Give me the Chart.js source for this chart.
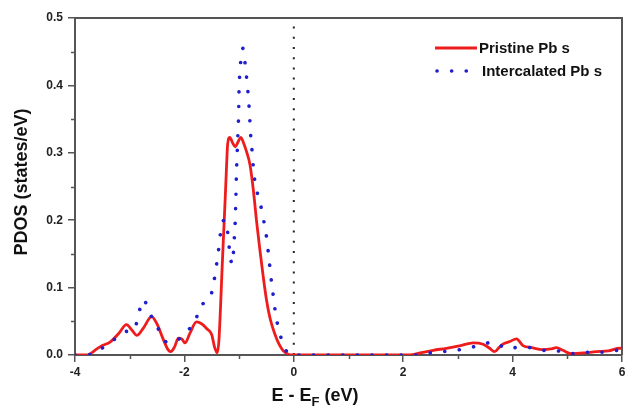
<!DOCTYPE html>
<html>
<head>
<meta charset="utf-8">
<script src="https://cdn.jsdelivr.net/npm/chart.js@4/dist/chart.umd.min.js"></script>
<style>
html,body{margin:0;padding:0;background:#fff;}
#wrap{width:625px;height:409px;position:relative;}
</style>
</head>
<body>
<div id="wrap"><canvas id="c" width="625" height="409"></canvas></div>
<script>
// ---- Data ----
const pristineE = [-4.0,-3.8,-3.72,-3.6,-3.5,-3.36,-3.2,-3.06,-2.95,-2.87,-2.75,-2.6,-2.5,-2.39,-2.3,-2.25,-2.18,-2.11,-2.05,-1.99,-1.9,-1.78,-1.68,-1.59,-1.5,-1.45,-1.4,-1.37,-1.34,-1.31,-1.28,-1.25,-1.23,-1.21,-1.17,-1.12,-1.07,-1.02,-0.97,-0.92,-0.865,-0.8,-0.74,-0.68,-0.62,-0.56,-0.5,-0.43,-0.35,-0.27,-0.2,-0.12,-0.05,0.5,1.0,1.5,2.1,2.2,2.36,2.55,2.79,3.05,3.28,3.46,3.58,3.67,3.75,3.82,3.95,4.07,4.19,4.35,4.55,4.7,4.8,4.92,5.07,5.3,5.53,5.75,5.96,6.0];
const pristineDOS = [0,0,0.002,0.009,0.014,0.019,0.032,0.045,0.036,0.029,0.04,0.057,0.046,0.024,0.008,0.005,0.012,0.025,0.024,0.018,0.032,0.049,0.046,0.039,0.03,0.012,0.003,0.02,0.07,0.13,0.185,0.24,0.279,0.312,0.323,0.315,0.309,0.316,0.323,0.315,0.302,0.282,0.245,0.198,0.156,0.117,0.082,0.053,0.032,0.016,0.007,0.002,0,0,0,0,0,0.001,0.004,0.007,0.01,0.014,0.018,0.016,0.01,0.005,0.011,0.016,0.02,0.024,0.014,0.011,0.008,0.009,0.011,0.007,0.002,0.003,0.005,0.006,0.01,0.01];

const intercalatedE = [-4.0,-3.78,-3.57,-3.3,-3.06,-2.92,-2.84,-2.76,-2.69,-2.63,-2.48,-2.3,-2.18,-2.05,-1.95,-1.81,-1.72,-1.6,-1.52,-1.46,-1.42,-1.38,-1.35,-1.3,-1.26,-1.23,-1.2,-1.17,-1.13,-1.1,-1.085,-1.07,-1.06,-1.05,-1.04,-1.03,-1.02,-1.01,-1.005,-1.0,-0.985,-0.965,-0.93,-0.89,-0.86,-0.835,-0.816,-0.8,-0.785,-0.76,-0.74,-0.71,-0.65,-0.58,-0.53,-0.49,-0.46,-0.43,-0.4,-0.365,-0.33,-0.28,-0.2,-0.12,-0.05,0.5,1.0,1.5,2.2,2.4,2.58,2.85,3.12,3.38,3.64,3.78,3.9,4.05,4.16,4.31,4.55,4.83,5.1,5.38,5.65,5.93,6.0];
const intercalatedDOS = [0,0,0.007,0.022,0.035,0.037,0.059,0.082,0.075,0.062,0.039,0.018,0.02,0.027,0.036,0.048,0.07,0.08,0.087,0.109,0.13,0.153,0.175,0.198,0.2,0.196,0.175,0.152,0.135,0.156,0.178,0.2,0.23,0.265,0.29,0.31,0.331,0.353,0.374,0.397,0.419,0.44,0.455,0.432,0.409,0.387,0.366,0.344,0.322,0.3,0.278,0.257,0.235,0.213,0.19,0.17,0.147,0.125,0.103,0.082,0.059,0.04,0.017,0.004,0,0,0,0,0,0.002,0.004,0.006,0.009,0.014,0.019,0.014,0.009,0.011,0.012,0.011,0.007,0.006,0.002,0.004,0.004,0.007,0.007];

const fermiE = [0, 0];
const fermiDOS = [0, 0.49];

const seriesLabels = ['Pristine Pb s', 'Intercalated Pb s'];
const xTicks = [-4, -2, 0, 2, 4, 6];
const yTicks = [0.0, 0.1, 0.2, 0.3, 0.4, 0.5];
const xMinorTicks = [-3, -1, 1, 3, 5];
const yMinorTicks = [0.05, 0.15, 0.25, 0.35, 0.45];

const toPts = (xs, ys) => xs.map((x, i) => ({x: x, y: ys[i]}));

const FONT = "'Liberation Sans', Arial, Helvetica, sans-serif";
const AXIS = '#555555';
const RED = '#ee1c1c';
const BLUE = '#1f1fcc';

Chart.defaults.font.family = FONT;

const framePlugin = {
  id: 'frameAndExtras',
  afterDraw(chart) {
    const ctx = chart.ctx;
    const a = chart.chartArea;
    const xs = chart.scales.x, ys = chart.scales.y;
    ctx.save();
    // top and right frame
    ctx.strokeStyle = AXIS;
    ctx.lineWidth = 2;
    ctx.beginPath();
    ctx.moveTo(a.left - 1, a.top);
    ctx.lineTo(a.right, a.top);
    ctx.lineTo(a.right, a.bottom);
    ctx.stroke();
    // minor ticks
    ctx.lineWidth = 1.5;
    ctx.beginPath();
    yMinorTicks.forEach(v => {
      const py = Math.round(ys.getPixelForValue(v)) + 0.5;
      ctx.moveTo(a.left - 4, py); ctx.lineTo(a.left, py);
    });
    xMinorTicks.forEach(v => {
      const px = Math.round(xs.getPixelForValue(v)) + 0.5;
      ctx.moveTo(px, a.bottom); ctx.lineTo(px, a.bottom + 4);
    });
    ctx.stroke();

    // axis titles
    ctx.fillStyle = '#111';
    ctx.textBaseline = 'alphabetic';
    ctx.font = 'bold 18px ' + FONT;
    const t1 = 'E - E', t3 = ' (eV)';
    const subFont = 'bold 13px ' + FONT;
    const w1 = ctx.measureText(t1).width;
    const w3 = ctx.measureText(t3).width;
    ctx.font = subFont;
    const w2 = ctx.measureText('F').width;
    const total = w1 + w2 + w3;
    let x0 = 315 - total / 2;
    const base = 401;
    ctx.font = 'bold 18px ' + FONT;
    ctx.textAlign = 'left';
    ctx.fillText(t1, x0, base);
    ctx.font = subFont;
    ctx.fillText('F', x0 + w1, base + 5);
    ctx.font = 'bold 18px ' + FONT;
    ctx.fillText(t3, x0 + w1 + w2, base);

    ctx.save();
    ctx.translate(22, 182);
    ctx.rotate(-Math.PI / 2);
    ctx.textAlign = 'center';
    ctx.textBaseline = 'middle';
    ctx.font = 'bold 18px ' + FONT;
    ctx.fillText('PDOS (states/eV)', 0, 0);
    ctx.restore();

    // legend
    const lx = a.right - 187;
    const ly1 = a.top + 30, ly2 = a.top + 53;
    const ds = chart.data.datasets;
    ctx.lineCap = 'butt';
    ctx.strokeStyle = ds[0].borderColor;
    ctx.lineWidth = ds[0].borderWidth;
    ctx.setLineDash([]);
    ctx.beginPath();
    ctx.moveTo(lx, ly1); ctx.lineTo(lx + 42, ly1);
    ctx.stroke();
    ctx.strokeStyle = ds[1].borderColor;
    ctx.lineWidth = ds[1].borderWidth;
    ctx.lineCap = 'round';
    ctx.setLineDash(ds[1].borderDash);
    ctx.beginPath();
    ctx.moveTo(lx + 2, ly2); ctx.lineTo(lx + 40, ly2);
    ctx.stroke();
    ctx.setLineDash([]);
    ctx.fillStyle = '#111';
    ctx.font = 'bold 15px ' + FONT;
    ctx.textAlign = 'left';
    ctx.textBaseline = 'middle';
    ctx.fillText(ds[0].label, lx + 44, ly1 + 1);
    ctx.fillText(ds[1].label, lx + 47, ly2 + 1);
    ctx.restore();
  }
};

new Chart(document.getElementById('c'), {
  type: 'scatter',
  data: {
    datasets: [
      {
        label: seriesLabels[0],
        data: toPts(pristineE, pristineDOS),
        showLine: true,
        borderColor: RED,
        backgroundColor: RED,
        borderWidth: 2.8,
        pointRadius: 0,
        cubicInterpolationMode: 'monotone',
        order: 2
      },
      {
        label: seriesLabels[1],
        data: toPts(intercalatedE, intercalatedDOS),
        showLine: true,
        borderColor: BLUE,
        backgroundColor: BLUE,
        borderWidth: 3.6,
        borderDash: [0.1, 14.5],
        borderCapStyle: 'round',
        pointRadius: 0,
        cubicInterpolationMode: 'monotone',
        order: 1
      },
      {
        label: 'E_F',
        data: toPts(fermiE, fermiDOS),
        showLine: true,
        borderColor: '#222',
        borderWidth: 2,
        borderDash: [2, 8.2],
        pointRadius: 0,
        order: 3
      }
    ]
  },
  options: {
    responsive: false,
    animation: false,
    devicePixelRatio: 1,
    layout: { padding: { top: 18, right: 3, left: 0, bottom: 0 } },
    plugins: { legend: { display: false }, tooltip: { enabled: false } },
    scales: {
      x: {
        type: 'linear',
        min: -4, max: 6,
        afterBuildTicks: s => { s.ticks = xTicks.map(v => ({value: v})); },
        afterFit: s => { s.height = 54; s.paddingLeft = 0; s.paddingRight = 0; },
        ticks: {
          callback: v => String(v),
          font: { size: 12, weight: 'bold' },
          color: '#222',
          padding: 3,
          maxRotation: 0
        },
        grid: { display: true, drawOnChartArea: false, drawTicks: true, tickLength: 7, color: AXIS, lineWidth: 1.5 },
        border: { display: true, color: AXIS, width: 2 }
      },
      y: {
        type: 'linear',
        min: 0, max: 0.5,
        afterBuildTicks: s => { s.ticks = yTicks.map(v => ({value: v})); },
        afterFit: s => { s.width = 75; s.paddingTop = 0; s.paddingBottom = 0; },
        ticks: {
          callback: v => v.toFixed(1),
          font: { size: 12, weight: 'bold' },
          color: '#222',
          padding: 5
        },
        grid: { display: true, drawOnChartArea: false, drawTicks: true, tickLength: 7, color: AXIS, lineWidth: 1.5 },
        border: { display: true, color: AXIS, width: 2 }
      }
    }
  },
  plugins: [framePlugin]
});
</script>
</body>
</html>
